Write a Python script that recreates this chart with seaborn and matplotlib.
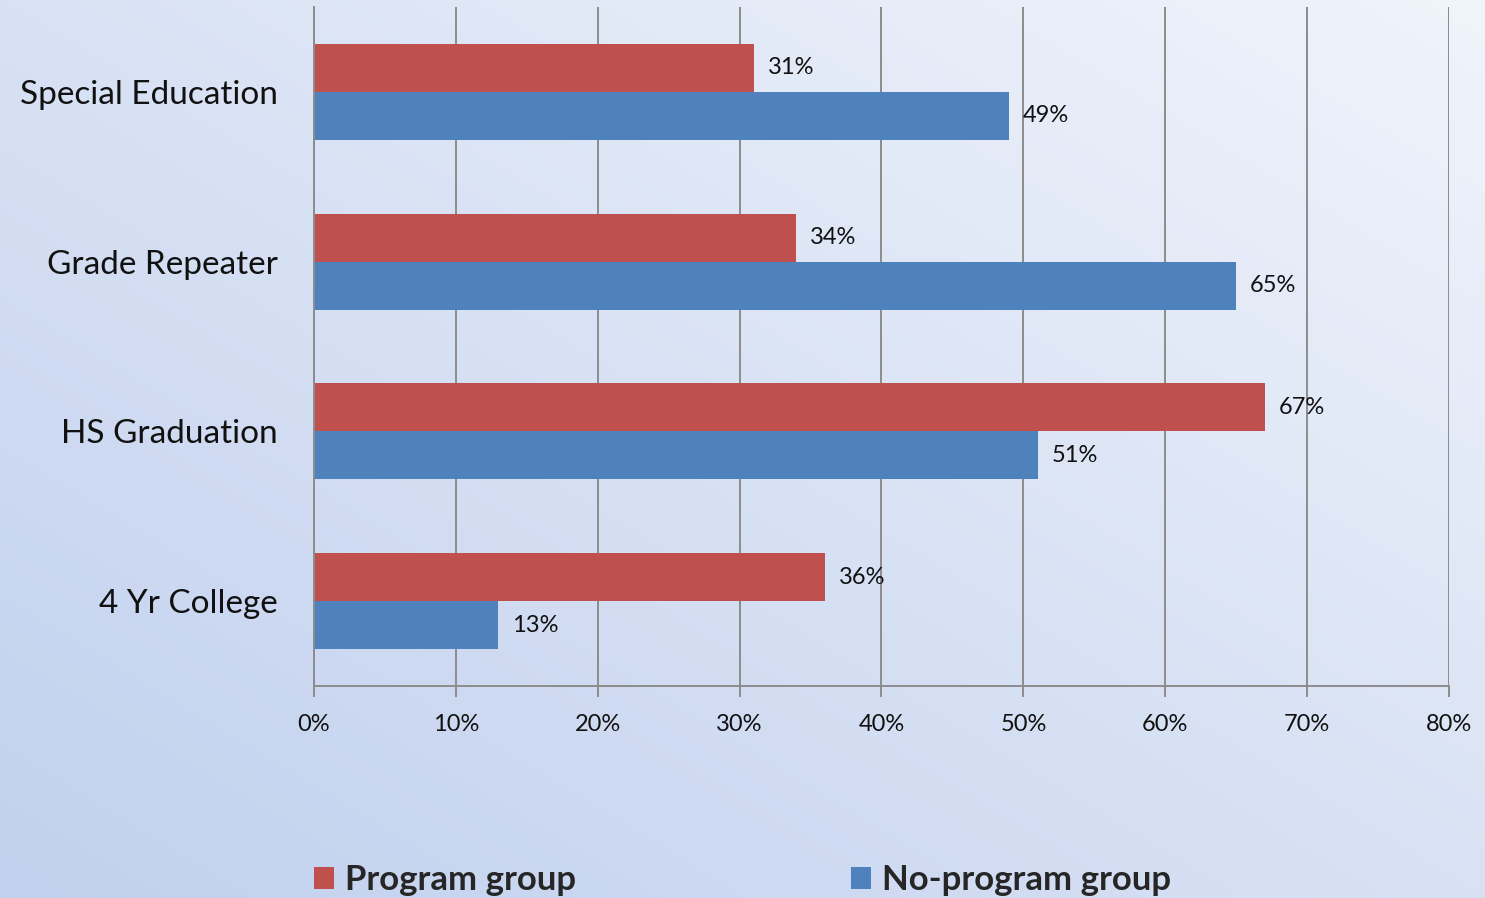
import numpy as np
import pandas as pd
import matplotlib
matplotlib.use("Agg")
import matplotlib.pyplot as plt
import seaborn as sns
from matplotlib.ticker import FuncFormatter

categories = ["Special Education", "Grade Repeater", "HS Graduation", "4 Yr College"]
program_group = [31, 34, 67, 36]
no_program_group = [49, 65, 51, 13]
series_names = ["Program group", "No-program group"]
x_ticks = [0, 10, 20, 30, 40, 50, 60, 70, 80]

df = pd.DataFrame({
    "category": categories * 2,
    "value": program_group + no_program_group,
    "group": [series_names[0]] * len(categories) + [series_names[1]] * len(categories),
})

sns.set_theme(style="white")
plt.rcParams["font.family"] = ["Lato", "DejaVu Sans"]

fig = plt.figure(figsize=(14.85, 8.98), dpi=100)

# diagonal light-blue gradient behind everything
bg = fig.add_axes([0, 0, 1, 1], zorder=-10)
h, w = 300, 500
xx, yy = np.meshgrid(np.linspace(0, 1, w), np.linspace(1, 0, h))
t = 0.5 * (xx + yy)
c0 = np.array([0xc1, 0xd0, 0xee]) / 255
c1 = np.array([0xf0, 0xf4, 0xfb]) / 255
img = c0[None, None, :] * (1 - t[..., None]) + c1[None, None, :] * t[..., None]
bg.imshow(img, aspect="auto", extent=[0, 1, 0, 1], origin="upper")
bg.axis("off")

ax = fig.add_axes([0.2114, 0.2361, 0.9758 - 0.2114, 0.9922 - 0.2361])
ax.set_facecolor("none")

sns.barplot(data=df, y="category", x="value", hue="group", orient="h",
            order=categories, hue_order=series_names,
            palette=["#C0504D", "#4F81BD"], width=0.565,
            saturation=1, linewidth=0, ax=ax, legend=True)

for cont in ax.containers:
    vals = [b.get_width() for b in cont]
    ax.bar_label(cont, labels=[f"{v:.0f}%" for v in vals], padding=10,
                 fontsize=17, color="#111111")

ax.set_xlim(0, 80)
ax.set_ylim(3.5, -0.5)
ax.set_xticks(x_ticks)
ax.xaxis.set_major_formatter(FuncFormatter(lambda v, p: f"{v:.0f}%"))
ax.grid(axis="x", color="#8c8c8c", linewidth=1.4)
ax.set_axisbelow(True)
ax.set_xlabel("")
ax.set_ylabel("")

for s in ["top", "right"]:
    ax.spines[s].set_visible(False)
for s in ["left", "bottom"]:
    ax.spines[s].set_color("#8c8c8c")
    ax.spines[s].set_linewidth(1.4)

ax.tick_params(axis="x", which="major", direction="out", length=8, width=1.4,
               color="#8c8c8c", pad=12, labelsize=17, labelcolor="#111111", bottom=True)
ax.tick_params(axis="y", length=0, pad=26, labelsize=24, labelcolor="#111111")

handles, labels = ax.get_legend_handles_labels()
ax.get_legend().remove()
fig.legend(handles, labels, loc="center left", bbox_to_anchor=(0.2114, 0.0195),
           ncol=2, frameon=False, borderpad=0, borderaxespad=0,
           handlelength=0.58, handleheight=0.58,
           handletextpad=0.32, columnspacing=7.9,
           prop={"family": "Lato", "weight": "bold", "size": 25})

fig.savefig("out.png", dpi=100)
